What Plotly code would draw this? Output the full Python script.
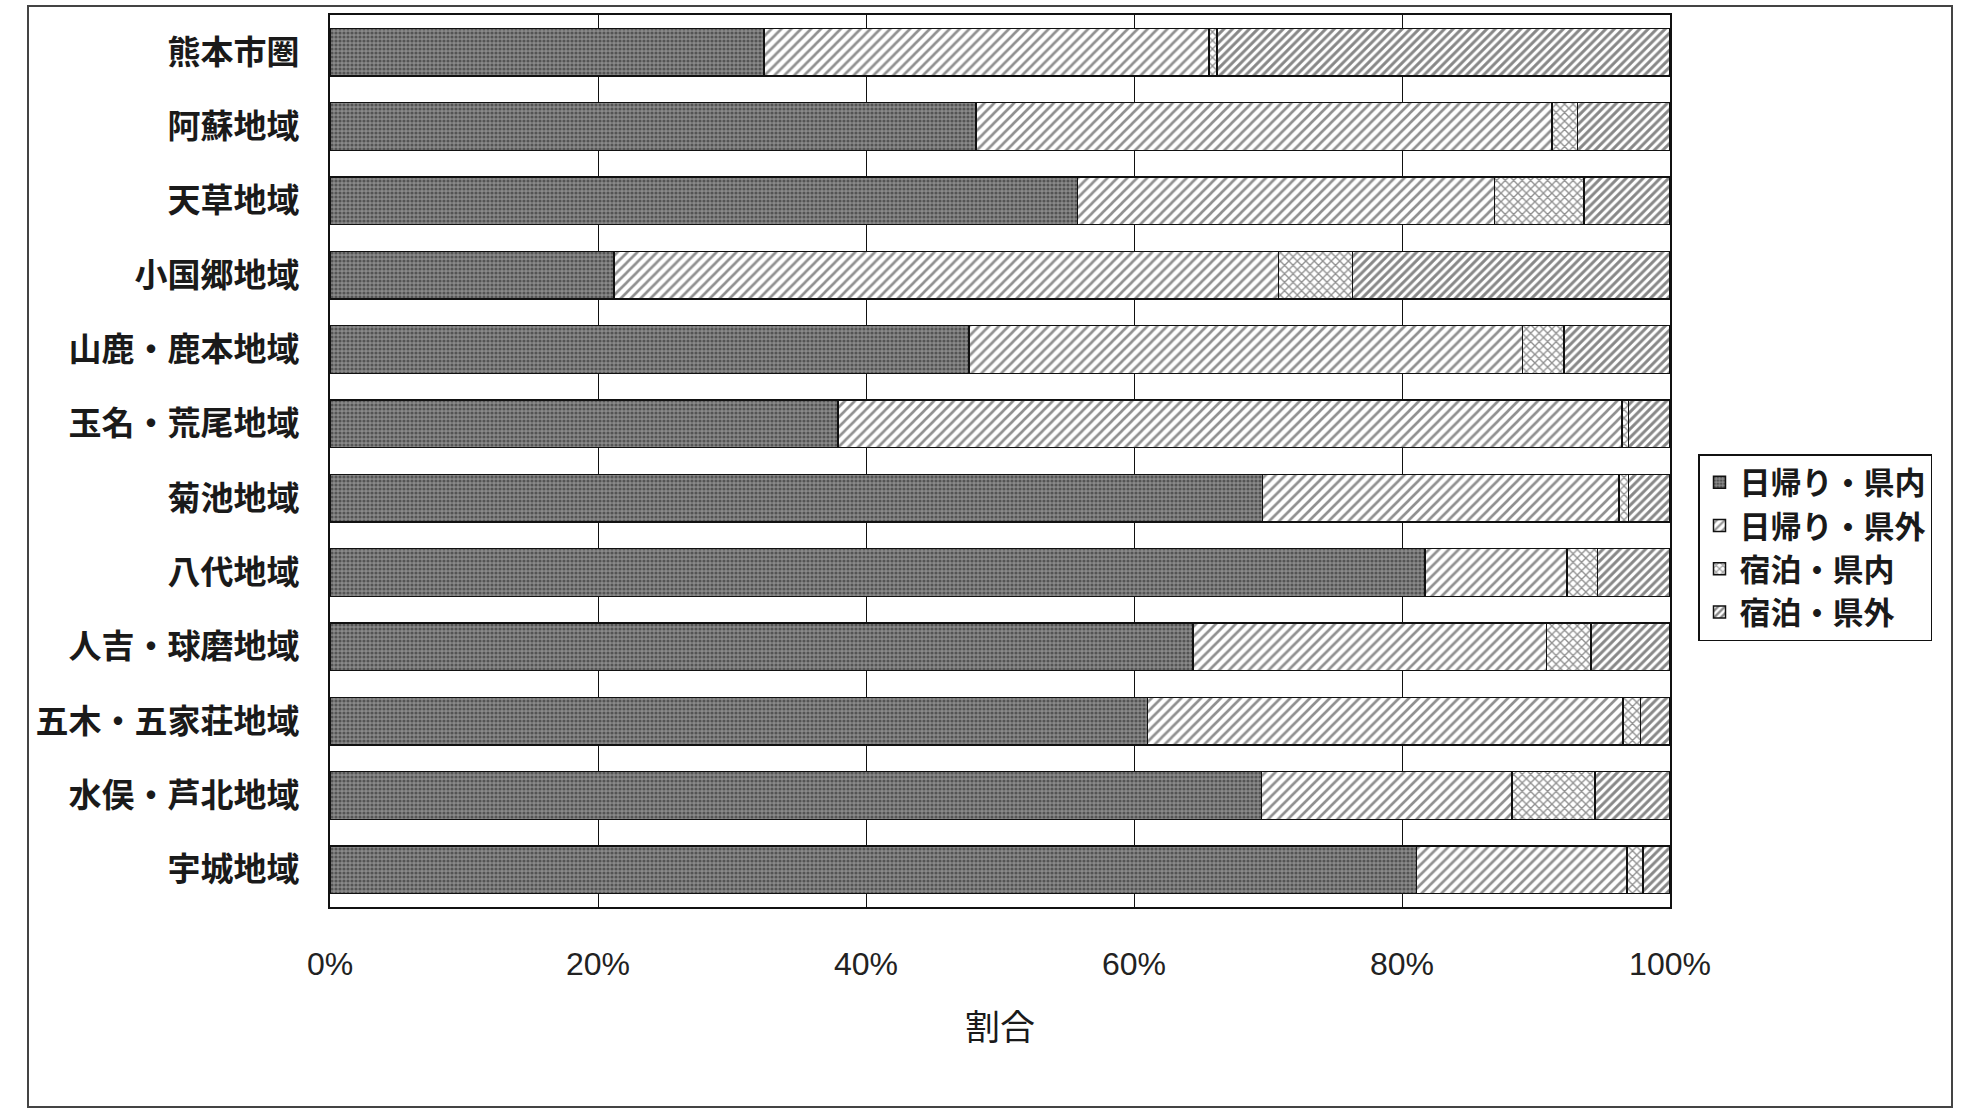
import plotly.graph_objects as go

regions = ["熊本市圏", "阿蘇地域", "天草地域", "小国郷地域", "山鹿・鹿本地域", "玉名・荒尾地域",
           "菊池地域", "八代地域", "人吉・球磨地域", "五木・五家荘地域", "水俣・芦北地域", "宇城地域"]
day_in = [32.4, 48.2, 55.8, 21.2, 47.7, 37.9, 69.6, 81.7, 64.4, 61.0, 69.5, 81.1]
day_out = [33.2, 43.0, 31.1, 49.6, 41.3, 58.5, 26.6, 10.6, 26.4, 35.5, 18.7, 15.7]
stay_in = [0.6, 1.9, 6.7, 5.5, 3.1, 0.5, 0.7, 2.3, 3.3, 1.3, 6.2, 1.2]
stay_out = [33.8, 6.9, 6.4, 23.7, 7.9, 3.1, 3.1, 5.4, 5.9, 2.2, 5.6, 2.0]
series_names = ["日帰り・県内", "日帰り・県外", "宿泊・県内", "宿泊・県外"]
tick_vals = [0, 20, 40, 60, 80, 100]
tick_text = ["0%", "20%", "40%", "60%", "80%", "100%"]

styles = [
    dict(shape=".", fgcolor="#1e1e1e", bgcolor="#8a8a8a", size=4, solidity=0.5),
    dict(shape="/", fgcolor="#222222", bgcolor="#ffffff", size=7, solidity=0.38),
    dict(shape="x", fgcolor="#222222", bgcolor="#ffffff", size=6, solidity=0.4),
    dict(shape="/", fgcolor="#111111", bgcolor="#ffffff", size=6, solidity=0.5),
]

fig = go.Figure()
for name, vals, st in zip(series_names, [day_in, day_out, stay_in, stay_out], styles):
    fig.add_trace(go.Bar(
        y=regions, x=vals, name=name, orientation="h",
        marker=dict(color=st["bgcolor"], line=dict(color="#111111", width=1.5),
                    pattern=dict(shape=st["shape"], fgcolor=st["fgcolor"], bgcolor=st["bgcolor"],
                                 size=st["size"], solidity=st["solidity"], fillmode="overlay")),
    ))

L, R, T, B = 330, 292, 15, 206
W, H = 1962, 1113
pw, ph = W - L - R, H - T - B

fig.update_layout(
    width=W, height=H,
    barmode="stack", bargap=0.36,
    margin=dict(l=L, r=R, t=T, b=B, pad=0),
    paper_bgcolor="white", plot_bgcolor="white",
    font=dict(family="Noto Sans CJK JP", color="#1a1a1a"),
    xaxis=dict(range=[0, 100], tickvals=tick_vals, ticktext=tick_text, showgrid=True,
               gridcolor="#111111", gridwidth=1.2, zeroline=False, ticks="",
               ticklabelstandoff=28,
               tickfont=dict(family="Liberation Sans, Arial", size=32, color="#222222"),
               showline=True, linecolor="#111111", linewidth=2, mirror=True,
               title=dict(text="割合", font=dict(family="Noto Sans CJK JP", size=35, color="#1a1a1a"),
                          standoff=34)),
    yaxis=dict(autorange="reversed", showgrid=False, ticks="", ticklabelstandoff=22,
               tickfont=dict(family="Noto Sans CJK JP", size=33, color="#1a1a1a", weight="bold"),
               showline=True, linecolor="#111111", linewidth=2, mirror=True),
    legend=dict(x=(1698 - L) / pw, y=(H - B - 454) / ph, xanchor="left", yanchor="top",
                traceorder="normal", bordercolor="#111111", borderwidth=1.5, bgcolor="white",
                font=dict(family="Noto Sans CJK JP", size=31, color="#1a1a1a", weight="bold"),
                itemwidth=30),
    showlegend=True,
)

# outer frame around the whole chart
fig.add_shape(type="rect", xref="paper", yref="paper",
              x0=(28 - L) / pw, x1=(1952 - L) / pw,
              y0=(H - B - 1107) / ph, y1=(H - B - 6) / ph,
              line=dict(color="#444444", width=2), layer="below")

fig.write_html("out.html", config={"displayModeBar": False},
               post_script="document.body.style.margin='0';document.body.style.overflow='hidden';")
